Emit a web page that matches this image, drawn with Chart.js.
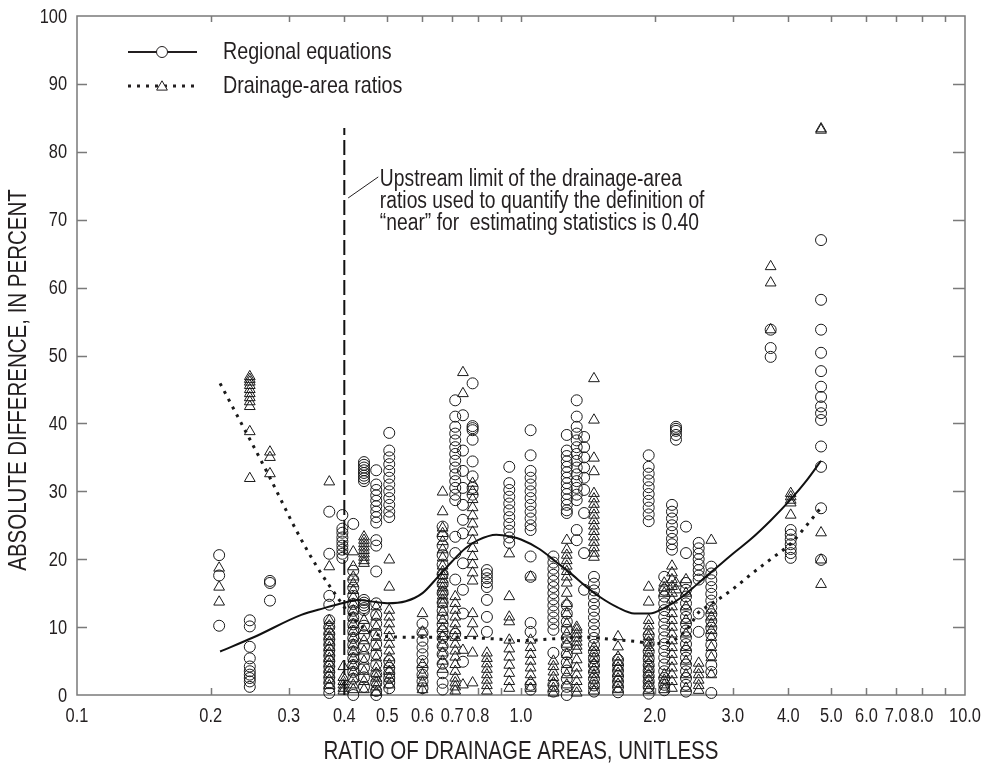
<!DOCTYPE html>
<html>
<head>
<meta charset="utf-8">
<title>Absolute difference vs ratio of drainage areas</title>
<script src="https://cdn.jsdelivr.net/npm/chart.js@4.4.1/dist/chart.umd.min.js"></script>
<style>
  html, body { margin: 0; padding: 0; background: #fff; }
  #wrap { width: 982px; height: 767px; }
</style>
</head>
<body>
<div id="wrap"><canvas id="chart" width="982" height="767"></canvas></div>
<script>
// x ticks (log axis) and their labels; 0.9 and 9.0 get a mark but no label
var xTickValues = [0.1, 0.2, 0.3, 0.4, 0.5, 0.6, 0.7, 0.8, 0.9, 1, 2, 3, 4, 5, 6, 7, 8, 9, 10];
var xTickLabels = ['0.1', '0.2', '0.3', '0.4', '0.5', '0.6', '0.7', '0.8', '', '1.0',
                   '2.0', '3.0', '4.0', '5.0', '6.0', '7.0', '8.0', '', '10.0'];
var yTickValues = [0, 10, 20, 30, 40, 50, 60, 70, 80, 90, 100];

// regional equations: [drainage-area ratio, absolute differences...]
var regCols = [
  [0.209, [20.6, 17.6, 10.2]],
  [0.245, [11.0, 10.1, 7.1, 5.4, 4.2, 3.5, 3.0, 2.5, 2.0, 1.2]],
  [0.272, [16.8, 16.5, 13.9]],
  [0.370, [27.0, 20.8, 14.6, 13.3, 11.0, 10.0, 9.0, 8.2, 7.4, 6.6, 5.8, 5.0, 4.2, 3.4, 2.6, 1.8, 1.0, 0.3]],
  [0.396, [26.5, 24.5, 23.9, 23.2, 22.6, 22.0, 21.4, 20.8, 20.2]],
  [0.419, [25.2, 18.3, 17.0, 15.8, 14.6, 13.4, 12.4, 11.4, 10.4, 9.4, 8.4, 7.4, 6.4, 5.4, 4.4, 3.4, 2.4, 0.0]],
  [0.443, [34.3, 33.9, 33.5, 33.1, 32.7, 32.3, 31.9, 31.5, 14.0, 13.6, 13.2, 12.8, 12.5, 10.2, 8.8, 7.2, 5.6, 4.0, 2.6, 1.2]],
  [0.472, [33.1, 31.0, 30.2, 29.4, 28.6, 27.8, 27.0, 26.2, 25.4, 22.8, 22.0, 18.2, 13.5, 11.8, 10.5, 9.0, 7.5, 6.0, 4.5, 3.0, 1.8, 0.6, 0.0]],
  [0.505, [38.6, 36.0, 35.0, 34.0, 33.0, 32.0, 31.0, 30.0, 29.0, 28.0, 27.0, 26.2, 5.0, 4.0, 3.2, 2.5, 1.8, 1.0]],
  [0.600, [10.5, 9.2, 8.0, 7.0, 6.0, 5.0, 4.0, 3.0, 2.0, 1.0]],
  [0.666, [24.8, 23.4, 22.0, 20.6, 19.2, 17.8, 16.4, 15.0, 13.6, 12.4, 11.4, 10.4, 9.4, 8.4, 7.2, 6.0, 4.6, 3.2, 1.8, 0.8]],
  [0.711, [43.4, 41.0, 39.5, 38.5, 37.5, 36.5, 35.5, 34.5, 33.5, 32.5, 31.5, 30.5, 29.5, 28.7, 23.3, 20.9, 17.0, 9.0]],
  [0.740, [41.2, 36.0, 33.0, 30.5, 28.0, 25.8, 23.8, 19.4, 15.5, 12.0, 4.9]],
  [0.778, [45.9, 39.6, 39.3, 39.0, 37.6, 34.4, 32.2, 30.5, 29.5]],
  [0.838, [18.4, 17.8, 17.2, 16.6, 15.9, 14.0, 11.5, 9.3]],
  [0.941, [33.6, 31.2, 30.2, 29.2, 28.2, 27.2, 26.2, 25.2, 24.2, 23.2, 22.4]],
  [1.051, [39.0, 35.3, 33.0, 32.0, 31.0, 30.0, 29.0, 28.0, 27.0, 26.0, 25.0, 24.3, 20.4, 17.4, 10.6, 9.3, 1.5, 0.8]],
  [1.183, [20.4, 19.5, 18.6, 17.7, 16.8, 15.9, 15.0, 14.1, 13.2, 12.3, 11.4, 10.5, 9.6, 6.2, 1.5, 0.5]],
  [1.268, [38.3, 36.0, 35.2, 34.4, 33.6, 32.8, 32.0, 31.2, 30.4, 29.6, 28.8, 28.0, 27.2, 26.8,
           13.2, 12.0, 10.8, 9.6, 8.4, 7.2, 6.0, 4.8, 3.6, 2.4, 1.2, 0.0]],
  [1.335, [43.4, 41.0, 39.5, 38.5, 37.5, 36.5, 35.5, 34.5, 33.5, 32.5, 31.5, 30.5, 29.5, 28.7, 24.3, 22.8]],
  [1.387, [38.0, 36.5, 35.0, 33.5, 32.0, 30.2, 26.8, 20.9, 15.5]],
  [1.460, [17.4, 16.4, 15.4, 14.4, 13.4, 12.4, 11.4, 10.4, 9.4, 8.4, 7.4, 6.4, 5.4, 4.4, 3.4, 2.4, 1.4, 0.5]],
  [1.654, [5.2, 4.4, 3.6, 2.8, 2.0, 1.2, 0.4]],
  [1.939, [35.3, 33.6, 32.6, 31.6, 30.6, 29.6, 28.6, 27.6, 26.6, 25.6, 8.8, 7.6, 6.4, 5.4, 4.4, 3.6, 2.8, 2.0, 1.2, 0.2]],
  [2.102, [17.4, 15.5, 14.5, 13.5, 12.5, 11.5, 10.5, 9.5, 8.5, 7.5, 6.5, 5.5, 4.5, 3.5, 2.5, 1.5, 0.7]],
  [2.188, [28.0, 27.0, 26.0, 25.0, 24.0, 23.0, 22.2, 21.4]],
  [2.234, [39.5, 39.2, 38.9, 38.3, 37.6]],
  [2.353, [24.8, 20.9, 16.5, 15.5, 14.5, 13.5, 12.5, 11.5, 10.5, 9.5, 8.5, 7.5, 6.5, 5.5, 4.5, 3.5, 2.5, 1.5, 0.5]],
  [2.513, [22.4, 21.6, 20.8, 20.0, 19.2, 18.4, 17.6, 17.0, 12.0, 9.3]],
  [2.683, [18.9, 17.9, 16.9, 15.9, 14.9, 13.9, 12.9, 11.9, 10.9, 9.9, 8.9, 7.4, 5.9, 4.4, 3.4, 0.3]],
  [3.65, [53.8, 51.1, 49.8]],
  [4.05, [24.3, 23.6, 22.9, 22.2, 21.5, 20.9, 20.2]],
  [4.74, [67.0, 58.2, 53.8, 50.4, 47.7, 45.4, 43.9, 42.5, 41.5, 40.5, 36.6, 33.6, 27.5, 19.9]]
];

// drainage-area ratio method
var darCols = [
  [0.209, [18.7, 15.9, 13.7]],
  [0.245, [46.9, 46.5, 46.1, 45.6, 45.0, 44.4, 43.8, 43.2, 42.5, 38.8, 31.9]],
  [0.272, [35.8, 35.0, 32.6]],
  [0.370, [31.4, 18.9, 11.0, 10.2, 9.4, 8.6, 7.8, 7.0, 6.2, 5.4, 4.6, 3.8, 3.0, 2.2, 1.4]],
  [0.398, [4.2, 2.6, 2.0, 1.5, 1.0, 0.6]],
  [0.419, [21.1, 18.9, 17.4, 16.4, 15.4, 14.4, 13.4, 12.4, 11.4, 10.4, 9.4, 8.4, 7.4, 6.4, 5.4, 4.4, 3.4, 2.4, 1.5, 0.8]],
  [0.443, [23.3, 22.8, 22.3, 21.8, 21.3, 20.8, 20.3, 19.8, 19.4, 11.0, 9.5, 8.0, 6.5, 5.0, 3.5, 2.0, 0.8]],
  [0.472, [13.0, 11.5, 10.0, 8.5, 7.0, 5.5, 4.0, 3.2, 2.5, 1.8, 1.2, 0.4]],
  [0.505, [19.9, 15.9, 12.5, 11.5, 10.5, 9.5, 8.5, 7.5, 6.5, 5.5, 4.5, 3.5, 2.5, 1.5]],
  [0.600, [12.0, 9.3, 4.5, 3.0, 1.8, 0.8]],
  [0.666, [29.9, 27.0, 24.6, 23.8, 22.6, 21.4, 20.2, 19.0, 18.2, 17.6, 17.0, 16.4, 15.8, 15.2, 14.6, 14.0, 13.4,
           12.2, 11.0, 9.8, 8.6, 7.4, 6.2, 5.0, 3.8]],
  [0.711, [14.5, 13.5, 12.5, 11.5, 10.5, 9.5, 8.5, 7.5, 6.5, 5.6, 4.5, 3.5, 2.5, 1.8, 1.2, 0.6]],
  [0.740, [47.5, 44.4, 6.6, 1.5]],
  [0.778, [31.2, 30.0, 28.8, 27.6, 26.4, 25.2, 24.0, 22.8, 21.6, 20.4, 19.2, 18.0, 16.8, 12.0, 10.5, 9.1, 6.2, 1.8]],
  [0.838, [6.2, 5.4, 4.6, 3.8, 3.0, 2.2, 1.4, 0.6]],
  [0.941, [20.8, 14.5, 11.5, 10.8, 8.1, 6.8, 5.6, 4.4, 3.2, 2.0, 1.0]],
  [1.051, [17.4, 8.1, 7.0, 6.0, 5.0, 4.0, 3.0, 2.0, 1.0]],
  [1.183, [5.0, 4.2, 3.4, 2.6, 1.8, 1.0, 0.3]],
  [1.268, [22.8, 21.4, 20.6, 19.8, 19.0, 18.2, 17.4, 16.5, 15.0, 13.5, 12.0, 10.5, 9.0, 7.5, 6.0, 4.5, 3.0, 1.5]],
  [1.335, [10.0, 9.6, 9.0, 8.4, 7.8, 7.2, 6.6, 5.2, 4.0, 3.0, 2.0, 1.0, 0.3]],
  [1.460, [46.6, 40.5, 34.9, 32.9, 29.7, 28.9, 28.1, 27.3, 26.5, 25.7, 24.9, 24.1, 23.3, 22.5, 21.7, 20.9, 20.3,
           7.0, 6.2, 5.4, 4.6, 3.8, 3.0, 2.2, 1.4, 0.6]],
  [1.654, [8.6, 7.1, 5.6, 4.8, 4.0, 3.2, 2.4, 1.6, 0.8]],
  [1.939, [15.9, 13.7, 11.0, 10.2, 9.4, 8.6, 7.8, 7.0, 6.2, 5.4, 4.6, 3.8, 3.0, 2.2, 1.4, 0.7]],
  [2.102, [16.5, 15.8, 15.0, 3.0, 2.2, 1.5, 0.8]],
  [2.188, [19.0, 18.0, 17.0, 16.0, 15.0, 14.0, 13.0, 12.0, 11.0, 10.0, 9.0, 8.0, 7.0, 6.0, 5.0, 4.0, 3.0, 2.0, 1.0]],
  [2.234, [16.5, 15.5]],
  [2.353, [17.0, 15.0, 13.0, 11.0, 9.0, 7.0, 5.0, 3.0, 1.0]],
  [2.513, [4.7, 3.8, 3.0, 2.2, 1.4, 0.7]],
  [2.683, [22.8, 12.5, 11.5, 10.5, 9.5, 8.5, 7.0, 5.5, 3.0]],
  [3.65, [63.1, 60.7, 53.8]],
  [4.05, [29.7, 29.2, 28.7, 28.3, 26.5]],
  [4.74, [83.4, 83.2, 23.9, 19.9, 16.3]]
];

// smoothed curves: [ratio, percent]
var regCurve = [[0.21, 6.4], [0.25, 8.5], [0.32, 11.8], [0.36, 12.8], [0.4, 13.6], [0.43, 14.0], [0.47, 13.7],
  [0.5, 13.5], [0.55, 13.8], [0.6, 15.0], [0.65, 17.4], [0.7, 19.7], [0.75, 21.6], [0.8, 22.8], [0.88, 23.6],
  [0.95, 23.3], [1.0, 22.9], [1.1, 21.5], [1.2, 19.6], [1.3, 17.8], [1.4, 16.0], [1.5, 14.5], [1.65, 12.9],
  [1.8, 12.0], [1.95, 12.0], [2.1, 12.8], [2.3, 14.4], [2.5, 16.4], [2.75, 18.7], [3.0, 20.8], [3.3, 23.0],
  [3.65, 25.7], [4.05, 28.8], [4.4, 31.6], [4.74, 34.5]];
var darCurve = [[0.21, 45.9], [0.27, 32.4], [0.315, 23.7], [0.35, 18.5], [0.385, 14.5], [0.41, 12.0],
  [0.44, 10.0], [0.47, 9.0], [0.5, 8.6], [0.6, 8.5], [0.7, 8.5], [0.8, 8.4], [0.9, 8.2], [1.0, 8.0],
  [1.2, 8.3], [1.4, 8.5], [1.6, 8.2], [1.8, 7.9], [2.0, 7.6], [2.15, 7.8], [2.25, 8.4], [2.4, 10.2],
  [2.5, 12.0], [2.65, 13.2], [2.8, 14.2], [3.0, 15.6], [3.3, 17.8], [3.65, 20.0], [4.05, 22.3],
  [4.4, 25.0], [4.74, 27.6]];

// upstream limit
var limitRatio = 0.4;
var limitTop = 83.5;

var legendLabels = ['Regional equations', 'Drainage-area ratios'];
var noteLines = ['Upstream limit of the drainage-area',
                 'ratios used to quantify the definition of',
                 '\u201cnear\u201d for  estimating statistics is 0.40'];
var xTitle = 'RATIO OF DRAINAGE AREAS, UNITLESS';
var yTitle = 'ABSOLUTE DIFFERENCE, IN PERCENT';

var INK = '#231f20';
var AXIS = '#7a7a7a';

// the figure uses a condensed face; squeeze a regular one if no narrow face is installed
function fontAvailable(name) {
  var c = document.createElement('canvas').getContext('2d');
  var s = 'RATIO OF DRAINAGE AREAS 0.123456789';
  c.font = '40px monospace';
  var a = c.measureText(s).width;
  c.font = '40px "' + name + '", monospace';
  return c.measureText(s).width !== a;
}
var NARROW = fontAvailable('Liberation Sans Narrow');
var FAMILY = NARROW ? '"Liberation Sans Narrow", sans-serif' : '"Liberation Sans", Arial, sans-serif';
var SQUEEZE = NARROW ? 1 : 0.82;

function text(ctx, str, x, y, size, align, baseline, rot) {
  ctx.save();
  ctx.translate(x, y);
  if (rot) ctx.rotate(rot);
  ctx.scale(SQUEEZE, 1);
  ctx.font = size + 'px ' + FAMILY;
  ctx.textAlign = align;
  ctx.textBaseline = baseline;
  ctx.fillText(str, 0, 0);
  ctx.restore();
}

function toPoints(cols) {
  var out = [];
  cols.forEach(function (c) {
    c[1].forEach(function (v) { out.push({ x: c[0], y: v }); });
  });
  return out;
}
function toXY(pairs) {
  return pairs.map(function (p) { return { x: p[0], y: p[1] }; });
}

var framePlugin = {
  id: 'frame',
  beforeDatasetsDraw: function (chart) {
    var ctx = chart.ctx, a = chart.chartArea, xs = chart.scales.x, ys = chart.scales.y;
    ctx.save();
    ctx.strokeStyle = AXIS;
    ctx.lineWidth = 1.5;
    ctx.strokeRect(a.left, a.top, a.right - a.left, a.bottom - a.top);
    ctx.beginPath();
    xTickValues.forEach(function (v) {
      if (v === 0.1 || v === 10) return;
      var px = Math.round(xs.getPixelForValue(v)) + 0.5;
      ctx.moveTo(px, a.bottom); ctx.lineTo(px, a.bottom - 7);
      ctx.moveTo(px, a.top); ctx.lineTo(px, a.top + 6);
    });
    yTickValues.forEach(function (v) {
      if (v === 0 || v === 100) return;
      var py = Math.round(ys.getPixelForValue(v)) + 0.5;
      ctx.moveTo(a.left, py); ctx.lineTo(a.left + 10, py);
      ctx.moveTo(a.right, py); ctx.lineTo(a.right - 12, py);
    });
    ctx.stroke();
    ctx.restore();
  },
  afterDraw: function (chart) {
    var ctx = chart.ctx, a = chart.chartArea, xs = chart.scales.x, ys = chart.scales.y;
    ctx.save();
    ctx.fillStyle = INK;
    ctx.strokeStyle = INK;

    // tick labels
    xTickValues.forEach(function (v, i) {
      if (xTickLabels[i]) text(ctx, xTickLabels[i], xs.getPixelForValue(v), a.bottom + 21, 20, 'center', 'middle');
    });
    yTickValues.forEach(function (v) {
      text(ctx, String(v), a.left - 10, ys.getPixelForValue(v) + 1, 20, 'right', 'middle');
    });

    // legend
    var lx0 = a.left + 51, lx1 = a.left + 120, mx = a.left + 85, tx = a.left + 146;
    var ly = [a.top + 36, a.top + 70];
    ctx.lineWidth = 2;
    ctx.beginPath(); ctx.moveTo(lx0, ly[0]); ctx.lineTo(lx1, ly[0]); ctx.stroke();
    ctx.lineWidth = 3;
    ctx.setLineDash([3, 6]);
    ctx.beginPath(); ctx.moveTo(lx0, ly[1]); ctx.lineTo(lx1 + 3, ly[1]); ctx.stroke();
    ctx.setLineDash([]);
    ctx.lineWidth = 1;
    ctx.fillStyle = '#fff';
    Chart.helpers.drawPoint(ctx, { pointStyle: 'circle', radius: 5.5, borderWidth: 1, rotation: 0 }, mx, ly[0]);
    Chart.helpers.drawPoint(ctx, { pointStyle: 'triangle', radius: 6.2, borderWidth: 1, rotation: 0 }, mx, ly[1] + 1);
    ctx.fillStyle = INK;
    text(ctx, legendLabels[0], tx, ly[0], 24, 'left', 'middle');
    text(ctx, legendLabels[1], tx, ly[1], 24, 'left', 'middle');

    // annotation for the upstream limit
    ctx.lineWidth = 1;
    ctx.beginPath();
    ctx.moveTo(xs.getPixelForValue(0.408), ys.getPixelForValue(73.2));
    ctx.lineTo(xs.getPixelForValue(0.477), ys.getPixelForValue(76.3));
    ctx.stroke();
    var nx = xs.getPixelForValue(0.481), ny = ys.getPixelForValue(74.9);
    noteLines.forEach(function (t, i) { text(ctx, t, nx, ny + i * 21.7, 23.5, 'left', 'alphabetic'); });

    // axis titles
    text(ctx, xTitle, (a.left + a.right) / 2, 752, 25, 'center', 'middle');
    text(ctx, yTitle, 19, 380, 25, 'center', 'middle', -Math.PI / 2);
    ctx.restore();
  }
};

new Chart(document.getElementById('chart'), {
  type: 'scatter',
  data: {
    datasets: [
      {
        type: 'line', label: legendLabels[0], data: toXY(regCurve),
        borderColor: '#111', borderWidth: 2, pointRadius: 0, fill: false,
        cubicInterpolationMode: 'monotone'
      },
      {
        type: 'line', label: legendLabels[1], data: toXY(darCurve),
        borderColor: '#1a1a1a', borderWidth: 3, borderDash: [3, 5.8], pointRadius: 0, fill: false,
        cubicInterpolationMode: 'monotone'
      },
      {
        type: 'line', label: 'limit', data: [{ x: limitRatio, y: 0 }, { x: limitRatio, y: limitTop }],
        borderColor: '#111', borderWidth: 2, borderDash: [15, 5], pointRadius: 0, fill: false
      },
      {
        label: 'regional points', data: toPoints(regCols), clip: false,
        pointStyle: 'circle', pointRadius: 5.5, borderWidth: 1,
        borderColor: '#1a1a1a', backgroundColor: 'rgba(0,0,0,0)'
      },
      {
        label: 'ratio points', data: toPoints(darCols), clip: false,
        pointStyle: 'triangle', pointRadius: 6.2, borderWidth: 1,
        borderColor: '#1a1a1a', backgroundColor: 'rgba(0,0,0,0)'
      }
    ]
  },
  options: {
    responsive: false,
    animation: false,
    devicePixelRatio: 1,
    events: [],
    layout: { padding: { top: 16, right: 17, left: 0, bottom: 0 } },
    plugins: { legend: { display: false }, tooltip: { enabled: false } },
    scales: {
      x: {
        type: 'logarithmic', min: 0.1, max: 10,
        grid: { display: false }, border: { display: false },
        afterBuildTicks: function (s) { s.ticks = xTickValues.map(function (v) { return { value: v }; }); },
        afterFit: function (s) { s.height = 72; },
        ticks: { display: false }
      },
      y: {
        min: 0, max: 100,
        grid: { display: false }, border: { display: false },
        afterFit: function (s) { s.width = 77; },
        ticks: { display: false, stepSize: 10 }
      }
    }
  },
  plugins: [framePlugin]
});
</script>
</body>
</html>
